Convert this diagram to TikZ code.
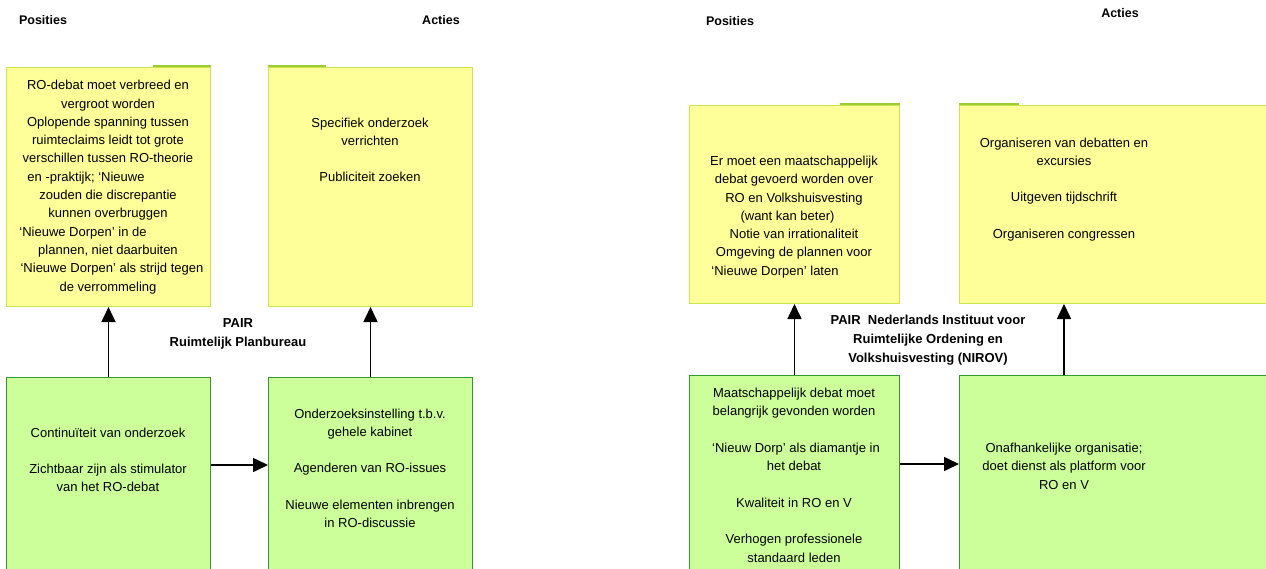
\documentclass[tikz,border=0pt]{standalone}
\usepackage{fontspec}
\setmainfont{Liberation Sans}
\usetikzlibrary{arrows.meta}

\definecolor{geelvul}{HTML}{FFFF99}
\definecolor{geellijn}{HTML}{C8E650}
\definecolor{geeltab}{HTML}{9ACD32}
\definecolor{groenvul}{HTML}{CCFF99}
\definecolor{groenlijn}{HTML}{339933}

\tikzset{
  geelvak/.style={draw=geellijn, fill=geelvul, line width=1pt, inner sep=0pt, anchor=north west},
  groenvak/.style={draw=groenlijn, fill=groenvul, line width=1pt, inner sep=0pt, anchor=north west},
  tabje/.style={draw=geeltab, line width=1.2pt},
  kop/.style={font=\bfseries\fontsize{12.5}{15}\selectfont, inner sep=0pt},
  pairtekst/.style={font=\bfseries\fontsize{13}{19}\selectfont, align=center, inner sep=0pt, anchor=north},
  tekst/.style={font=\fontsize{13}{18.3}\selectfont, align=center, inner sep=0pt, anchor=north},
  pijl/.style={-{Triangle[length=15pt,width=14pt]}, line width=1.6pt}
}

\begin{document}
\begin{tikzpicture}[x=1pt,y=-1pt]
            \useasboundingbox (0,0) rectangle (1266,568);
            \node[kop] (posA) at (43,20) {Posities};
            \node[kop] (actA) at (441,20) {Acties};
            \node[kop] (posB) at (730,21) {Posities};
            \node[kop] (actB) at (1120,13) {Acties};

            \node[geelvak, minimum width=204pt, minimum height=239pt] (y1) at (6,67) {};
            \node[geelvak, minimum width=204pt, minimum height=239pt] (y2) at (268,67) {};
            \node[groenvak, minimum width=204pt, minimum height=210pt] (g1) at (6,377) {};
            \node[groenvak, minimum width=204pt, minimum height=210pt] (g2) at (268,377) {};
            \node[geelvak, minimum width=210pt, minimum height=198pt] (y3) at (689,105) {};
            \node[geelvak, minimum width=330pt, minimum height=198pt] (y4) at (959,105) {};
            \node[groenvak, minimum width=210pt, minimum height=210pt] (g3) at (689,375) {};
            \node[groenvak, minimum width=330pt, minimum height=210pt] (g4) at (959,375) {};

            \draw[tabje] ([yshift=1pt]y1.north east) -- ++(-58,0);
            \draw[tabje] ([yshift=1pt]y2.north west) -- ++(58,0);
            \draw[tabje] ([yshift=1pt]y3.north east) -- ++(-60,0);
            \draw[tabje] ([yshift=1pt]y4.north west) -- ++(60,0);

            \node[tekst] (t1) at (108,80.1) {RO-debat moet verbreed en\\vergroot worden\\Oplopende spanning tussen\\ruimteclaims leidt tot grote\\verschillen tussen RO-theorie\\en -praktijk; ‘Nieuwe\hspace*{44pt}\mbox{}\\zouden die discrepantie\\kunnen overbruggen\\‘Nieuwe Dorpen’ in de\hspace*{50pt}\mbox{}\\plannen, niet daarbuiten\\\hspace*{8pt}‘Nieuwe Dorpen’ als strijd tegen\\de verrommeling};
            \node[tekst] (t2) at (370,117.4) {Specifiek onderzoek\\verrichten\\[18.3pt]Publiciteit zoeken};
            \node[tekst] (t3) at (108,427.4) {Continuïteit van onderzoek\\[18.3pt]Zichtbaar zijn als stimulator\\van het RO-debat};
            \node[tekst] (t4) at (370,408.4) {Onderzoeksinstelling t.b.v.\\gehele kabinet\\[18.3pt]Agenderen van RO-issues\\[18.3pt]Nieuwe elementen inbrengen\\in RO-discussie};
            \node[tekst] (t5) at (794,155.8) {Er moet een maatschappelijk\\debat gevoerd worden over\\RO en Volkshuisvesting\\(want kan beter)\hspace*{13pt}\mbox{}\\Notie van irrationaliteit\\Omgeving de plannen voor\\‘Nieuwe Dorpen’ laten\hspace*{38pt}\mbox{}};
            \node[tekst] (t6) at (1064,137.4) {Organiseren van debatten en\\excursies\\[18.3pt]Uitgeven tijdschrift\\[18.3pt]Organiseren congressen};
            \node[tekst] (t7) at (794,387.8) {Maatschappelijk debat moet\\belangrijk gevonden worden\\[18.3pt]\hspace*{4pt}‘Nieuw Dorp’ als diamantje in\\het debat\\[18.3pt]Kwaliteit in RO en V\\[18.3pt]Verhogen professionele\\standaard leden};
            \node[tekst] (t8) at (1064,442.8) {Onafhankelijke organisatie;\\doet dienst als platform voor\\RO en V};

            \node[pairtekst] (pairA) at (238,318.1) {PAIR\\Ruimtelijk Planbureau};
            \node[pairtekst] (pairB) at (928,315.1) {PAIR\ \ Nederlands Instituut voor\\Ruimtelijke Ordening en\\Volkshuisvesting (NIROV)};

            \coordinate (hA) at (0,465);
            \coordinate (hB) at (0,464);
            \coordinate (vB) at (1064,0);
            \draw[pijl] (g1.north) -- (y1.south);
            \draw[pijl] (g2.north) -- (y2.south);
            \draw[pijl] (g1.east |- hA) -- (g2.west |- hA);
            \draw[pijl] (g3.north) -- (y3.south);
            \draw[pijl] (g4.north -| vB) -- (y4.south -| vB);
            \draw[pijl] (g3.east |- hB) -- (g4.west |- hB);
        \end{tikzpicture}
\end{document}
